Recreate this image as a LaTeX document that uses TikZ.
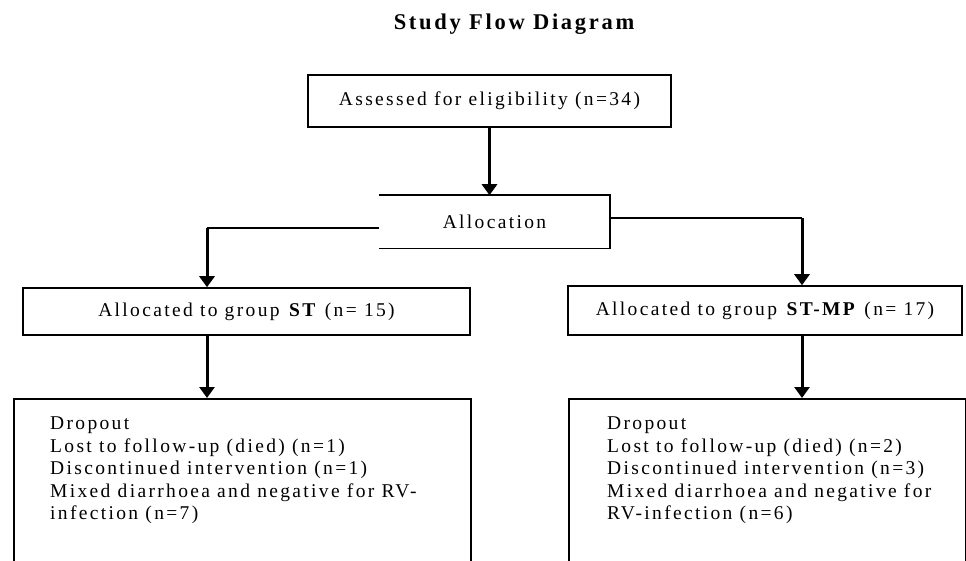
\documentclass[tikz,border=0pt]{standalone}
\usepackage{fontspec}
\setmainfont{Liberation Serif}[LetterSpace=12]
\usetikzlibrary{arrows.meta}

\begin{document}
\begin{tikzpicture}[x=1pt,y=-1pt,
    box/.style={draw,line width=1.5pt,inner sep=0pt,font=\fontsize{19.5}{22.5}\selectfont},
    list/.style={align=left,inner sep=0pt,font=\fontsize{19.5}{22.5}\selectfont},
    link/.style={line width=1.5pt},
    flow/.style={line width=3pt,-{Triangle[width=15pt,length=11pt]}}]
    \useasboundingbox (0,0) rectangle (966,561); % page size of the reference
    \node (title) at (514,24) {\fontsize{22.5}{26}\selectfont\bfseries Study Flow Diagram};
    \node[box,minimum width=363pt,minimum height=52pt] (assess) at (489.5,101) {Assessed for eligibility (n=34)};
    \node[box,draw=none,minimum width=229pt,minimum height=52pt] (alloc) at (494.5,222) {Allocation};
    \draw[link] (alloc.north west) -- (alloc.north east) % allocation box is open on the left
        -- (alloc.south east) -- (alloc.south west);
    \node[box,minimum width=447pt,minimum height=47pt] (groupST) at (246.5,311.5) {Allocated to group \textbf{ST} (n= 15)};
    \node[box,minimum width=394pt,minimum height=49pt] (groupMP) at (765,310.5) {Allocated to group \textbf{ST-MP} (n= 17)};
    \node[box,minimum width=457pt,minimum height=200pt,anchor=north west] (dropST) at (13,398) {}; % runs off the page
    \node[box,minimum width=397pt,minimum height=200pt,anchor=north west] (dropMP) at (568,398) {};
    \node[list,anchor=north west] (listST) at (50,417) {Dropout\\
        Lost to follow-up (died) (n=1)\\
        Discontinued intervention (n=1)\\
        Mixed diarrhoea and negative for RV-\\
        infection (n=7)};
    \node[list,anchor=north west] (listMP) at (607,417) {Dropout\\
        Lost to follow-up (died) (n=2)\\
        Discontinued intervention (n=3)\\
        Mixed diarrhoea and negative for\\
        RV-infection (n=6)};
    \coordinate (splitST) at (207,228);
    \coordinate (splitMP) at (802,218);
    \draw[flow] (assess.south) -- (assess.south |- alloc.north);
    \draw[link] ([yshift=-6pt]alloc.west) -- (splitST); % left branch
    \draw[link] ([yshift=4pt]alloc.east) -- (splitMP); % right branch
    \draw[flow] (splitST) -- (splitST |- groupST.north);
    \draw[flow] (splitMP) -- (splitMP |- groupMP.north);
    \draw[flow] (splitST |- groupST.south) -- (splitST |- dropST.north);
    \draw[flow] (splitMP |- groupMP.south) -- (splitMP |- dropMP.north);
\end{tikzpicture}
\end{document}
